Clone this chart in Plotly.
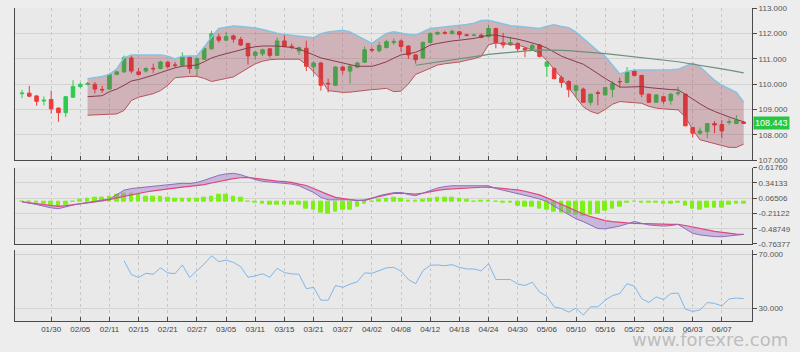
import plotly.graph_objects as go
import pandas as pd

# ---------------- data ----------------
dates = list(pd.bdate_range("2019-01-24", "2019-06-12").strftime("%m/%d"))

opens = [109.62, 109.64, 109.53, 109.33, 109.39, 109.05, 108.87, 109.48, 109.90, 109.99,
         109.99, 109.79, 109.80, 110.38, 110.48, 111.03, 110.48, 110.51, 110.62, 110.61,
         110.86, 110.75, 110.74, 111.06, 110.61, 110.98, 111.39, 111.86, 111.73, 111.90,
         111.76, 111.60, 111.13, 111.19, 111.39, 111.13, 111.70, 111.49, 111.30, 111.41,
         110.68, 110.83, 110.03, 109.95, 110.67, 110.51, 110.67, 110.86, 111.36, 111.31,
         111.44, 111.64, 111.70, 111.50, 111.15, 111.03, 111.64, 111.97, 112.03, 111.99,
         112.06, 111.94, 111.92, 111.93, 111.87, 112.19, 111.63, 111.54, 111.60, 111.41,
         111.39, 111.54, 110.70, 110.61, 110.25, 110.10, 109.74, 109.80, 109.28, 109.66,
         109.57, 109.79, 110.10, 110.06, 110.51, 110.34, 109.60, 109.28, 109.50, 109.35,
         109.62, 109.60, 108.28, 108.06, 108.12, 108.44, 108.40, 108.49, 108.44, 108.50]

highs = [109.77, 109.93, 109.56, 109.51, 109.74, 109.07, 109.52, 110.15, 110.06, 110.08,
         110.08, 109.93, 110.44, 110.52, 111.12, 111.12, 110.64, 110.67, 110.80, 110.92,
         110.92, 110.87, 111.25, 111.10, 111.05, 111.50, 112.10, 111.99, 112.06, 111.95,
         111.86, 111.63, 111.30, 111.40, 111.42, 111.83, 111.93, 111.60, 111.47, 111.71,
         110.90, 110.88, 110.21, 110.70, 110.72, 110.75, 110.88, 111.48, 111.44, 111.65,
         111.75, 111.80, 111.75, 111.53, 111.18, 111.68, 112.04, 112.08, 112.10, 112.14,
         112.10, 111.98, 111.98, 112.00, 112.34, 112.22, 112.02, 111.86, 111.65, 111.45,
         111.58, 111.58, 110.90, 110.66, 110.34, 110.15, 109.98, 109.86, 109.62, 109.74,
         109.88, 110.12, 110.25, 110.67, 110.57, 110.36, 109.62, 109.60, 109.54, 109.65,
         109.89, 109.62, 108.30, 108.28, 108.46, 108.54, 108.58, 108.64, 108.77, 108.53]

lows = [109.44, 109.48, 109.15, 109.16, 108.83, 108.51, 108.70, 109.45, 109.83, 109.95,
        109.63, 109.64, 109.78, 110.35, 110.44, 110.42, 110.34, 110.45, 110.44, 110.58,
        110.62, 110.64, 110.70, 110.42, 110.32, 110.95, 111.35, 111.63, 111.70, 111.63,
        111.50, 110.77, 110.96, 111.10, 111.03, 111.10, 111.45, 111.37, 111.15, 110.51,
        110.29, 109.74, 109.67, 109.92, 110.38, 110.02, 110.62, 110.83, 111.26, 111.25,
        111.40, 111.54, 111.28, 110.99, 110.81, 110.98, 111.60, 111.92, 111.95, 111.96,
        111.80, 111.88, 111.88, 111.80, 111.84, 111.41, 111.41, 111.50, 111.30, 111.06,
        111.33, 111.05, 110.29, 110.20, 109.86, 109.48, 109.48, 109.25, 109.16, 109.16,
        109.55, 109.48, 109.86, 110.03, 110.30, 109.48, 109.25, 109.26, 109.22, 109.18,
        109.54, 108.35, 107.89, 107.99, 107.86, 108.06, 107.86, 108.40, 108.42, 108.42]

closes = [109.64, 109.52, 109.32, 109.36, 109.02, 108.87, 109.50, 109.90, 109.99, 110.02,
          109.80, 109.77, 110.38, 110.48, 111.05, 110.51, 110.38, 110.61, 110.60, 110.87,
          110.68, 110.74, 111.09, 110.61, 111.00, 111.41, 111.99, 111.73, 111.87, 111.77,
          111.54, 111.11, 111.26, 111.35, 111.13, 111.70, 111.48, 111.47, 111.44, 110.70,
          110.83, 109.95, 110.01, 110.67, 110.54, 110.70, 110.83, 111.35, 111.34, 111.52,
          111.67, 111.68, 111.48, 111.15, 110.96, 111.64, 111.99, 112.03, 112.01, 112.08,
          111.95, 111.92, 111.93, 111.84, 112.19, 111.63, 111.54, 111.63, 111.39, 111.34,
          111.52, 111.09, 110.87, 110.21, 110.06, 109.78, 109.93, 109.28, 109.60, 109.63,
          109.86, 110.02, 110.09, 110.47, 110.34, 109.60, 109.28, 109.57, 109.32, 109.60,
          109.65, 108.35, 108.06, 108.15, 108.44, 108.38, 108.15, 108.51, 108.57, 108.443]

# Bollinger bands (from bar index 9)
bb_start = 9
bb_upper = [110.21, 110.25, 110.30, 110.38, 110.60, 111.03, 111.15, 111.15, 111.15, 111.15,
            111.15, 111.10, 110.99, 111.10, 111.10, 111.12, 111.45, 111.86, 112.19, 112.25,
            112.29, 112.27, 112.24, 112.21, 112.15, 112.06, 112.00, 111.95, 111.93, 111.90,
            111.86, 111.83, 111.99, 112.05, 112.10, 112.12, 112.05, 111.90, 111.75, 111.60,
            111.80, 112.00, 112.06, 112.00, 111.95, 111.93, 112.05, 112.19, 112.22, 112.25,
            112.28, 112.31, 112.35, 112.40, 112.51, 112.52, 112.45, 112.35, 112.30, 112.28,
            112.25, 112.22, 112.19, 112.28, 112.34, 112.27, 112.22, 112.05, 111.80, 111.55,
            111.30, 111.09, 110.75, 110.40, 110.50, 110.55, 110.55, 110.55, 110.55, 110.55,
            110.56, 110.58, 110.72, 110.83, 110.68, 110.40, 110.15, 109.95, 109.80, 109.67, 109.28]
bb_mid = [109.50, 109.52, 109.54, 109.70, 109.80, 109.95, 110.12, 110.18, 110.25, 110.35,
          110.45, 110.55, 110.64, 110.70, 110.72, 110.75, 110.88, 111.03, 111.12, 111.20,
          111.28, 111.36, 111.42, 111.47, 111.50, 111.50, 111.50, 111.47, 111.44, 111.38,
          111.28, 111.15, 111.03, 110.97, 110.90, 110.83, 110.76, 110.70, 110.70, 110.70,
          110.78, 110.88, 111.02, 111.15, 111.20, 111.25, 111.38, 111.54, 111.60, 111.66,
          111.70, 111.73, 111.76, 111.80, 111.86, 111.93, 111.93, 111.88, 111.83, 111.77,
          111.70, 111.62, 111.54, 111.42, 111.25, 111.10, 110.99, 110.88, 110.78, 110.60,
          110.40, 110.22, 110.05, 109.88, 109.88, 109.90, 109.90, 109.86, 109.83, 109.80,
          109.78, 109.77, 109.60, 109.41, 109.22, 109.05, 108.92, 108.80, 108.70, 108.60, 108.51]
bb_lower = [108.77, 108.78, 108.79, 108.80, 108.82, 108.96, 109.35, 109.48, 109.55, 109.62,
            109.74, 109.95, 110.25, 110.28, 110.30, 110.30, 110.22, 110.10, 110.15, 110.22,
            110.28, 110.45, 110.64, 110.80, 110.90, 110.96, 110.98, 110.99, 110.98, 110.98,
            110.77, 110.50, 110.19, 109.74, 109.70, 109.67, 109.68, 109.72, 109.76, 109.78,
            109.80, 109.83, 109.70, 109.72, 110.00, 110.38, 110.50, 110.61, 110.75, 110.80,
            110.83, 110.87, 110.94, 111.00, 111.09, 111.55, 111.62, 111.60, 111.57, 111.54,
            111.45, 111.35, 111.22, 110.92, 110.57, 110.25, 109.85, 109.45, 109.10, 108.92,
            108.83, 109.00, 109.20, 109.31, 109.28, 109.25, 109.24, 109.12, 109.05, 109.02,
            109.00, 108.98, 108.70, 108.20, 107.80, 107.72, 107.63, 107.55, 107.50, 107.50, 107.63]

# long moving average (from bar index 54)
ma_start = 54
ma_long = [110.74, 110.78, 110.82, 110.86, 110.90, 110.95, 111.00, 111.03, 111.08, 111.12,
           111.17, 111.20, 111.23, 111.26, 111.29, 111.31, 111.33, 111.35, 111.35, 111.34,
           111.33, 111.32, 111.30, 111.28, 111.26, 111.24, 111.20, 111.17, 111.14, 111.11,
           111.08, 111.05, 111.02, 110.99, 110.96, 110.92, 110.88, 110.83, 110.79, 110.75,
           110.70, 110.65, 110.60, 110.55, 110.50, 110.44]

macd = [0.00, -0.02, -0.05, -0.08, -0.11, -0.125, -0.09, -0.06, -0.035, -0.01,
        0.01, 0.03, 0.05, 0.13, 0.21, 0.24, 0.255, 0.265, 0.28, 0.295,
        0.305, 0.32, 0.335, 0.33, 0.35, 0.39, 0.44, 0.48, 0.505, 0.515,
        0.49, 0.44, 0.40, 0.37, 0.355, 0.345, 0.335, 0.32, 0.29, 0.23,
        0.17, 0.08, 0.035, 0.035, 0.04, 0.035, 0.025, 0.02, 0.06, 0.11,
        0.14, 0.165, 0.17, 0.13, 0.11, 0.16, 0.21, 0.25, 0.275, 0.29,
        0.29, 0.29, 0.29, 0.29, 0.29, 0.24, 0.21, 0.18, 0.155, 0.12,
        0.085, 0.05, 0.005, -0.08, -0.16, -0.24, -0.31, -0.36, -0.43, -0.485,
        -0.49, -0.47, -0.44, -0.40, -0.355, -0.39, -0.42, -0.43, -0.44, -0.43,
        -0.41, -0.49, -0.57, -0.60, -0.62, -0.63, -0.633, -0.62, -0.60, -0.59]

signal = [0.00, -0.015, -0.03, -0.05, -0.07, -0.082, -0.07, -0.055, -0.04, -0.02,
          0.00, 0.02, 0.038, 0.07, 0.10, 0.13, 0.157, 0.177, 0.197, 0.217,
          0.235, 0.25, 0.265, 0.28, 0.29, 0.31, 0.34, 0.37, 0.397, 0.42,
          0.435, 0.44, 0.425, 0.405, 0.39, 0.375, 0.365, 0.35, 0.32, 0.295,
          0.24, 0.18, 0.13, 0.08, 0.055, 0.04, 0.027, 0.035, 0.067, 0.10,
          0.125, 0.15, 0.157, 0.15, 0.14, 0.155, 0.185, 0.205, 0.225, 0.235,
          0.245, 0.253, 0.26, 0.263, 0.264, 0.255, 0.24, 0.228, 0.215, 0.19,
          0.16, 0.125, 0.07, 0.01, -0.05, -0.11, -0.17, -0.22, -0.27, -0.31,
          -0.34, -0.36, -0.375, -0.383, -0.39, -0.397, -0.40, -0.403, -0.406, -0.408,
          -0.41, -0.43, -0.46, -0.485, -0.51, -0.535, -0.555, -0.57, -0.585, -0.59]

hist = [0.006, 0.006, -0.01, -0.035, -0.06, -0.08, -0.05, 0.01, 0.04, 0.06,
        0.07, 0.07, 0.09, 0.12, 0.15, 0.14, 0.12, 0.10, 0.09, 0.09,
        0.07, 0.06, 0.06, 0.055, 0.055, 0.07, 0.10, 0.12, 0.12, 0.10,
        0.07, 0.01, -0.01, -0.03, -0.05, -0.05, -0.05, -0.05, -0.05, -0.12,
        -0.14, -0.20, -0.21, -0.18, -0.15, -0.14, -0.09, -0.035, 0.01, 0.04,
        0.06, 0.08, 0.05, 0.02, 0.02, 0.04, 0.05, 0.07, 0.07, 0.07,
        0.06, 0.04, 0.01, 0.02, 0.02, 0.006, -0.01, -0.02, -0.07, -0.09,
        -0.08, -0.12, -0.14, -0.17, -0.20, -0.22, -0.23, -0.26, -0.23, -0.22,
        -0.16, -0.12, -0.08, -0.01, 0.01, -0.01, -0.015, -0.02, -0.03, -0.03,
        -0.01, -0.07, -0.12, -0.14, -0.11, -0.10, -0.10, -0.06, -0.04, -0.03]

# RSI (from bar index 14)
rsi_start = 14
rsi = [65.1, 54.9, 52.7, 55.8, 55.1, 59.8, 56.1, 55.6, 62.0, 52.7,
       57.8, 62.7, 68.8, 64.4, 65.6, 63.9, 60.7, 52.9, 53.9, 55.4,
       52.9, 59.5, 56.3, 55.4, 55.1, 44.4, 45.4, 35.9, 35.9, 46.8,
       45.4, 47.8, 49.5, 56.1, 55.8, 58.0, 59.8, 60.2, 57.3, 51.2,
       48.1, 57.8, 61.7, 62.0, 61.4, 62.2, 60.2, 59.0, 59.0, 57.6,
       62.9, 51.2, 51.0, 51.2, 47.8, 46.8, 49.2, 41.9, 38.8, 31.0,
       29.8, 27.1, 30.0, 24.9, 31.0, 31.0, 35.9, 39.3, 40.8, 48.1,
       46.3, 37.1, 34.2, 38.3, 36.4, 40.8, 41.2, 29.3, 27.6, 28.6,
       34.2, 33.5, 31.7, 36.8, 37.5, 37.1]

price_ticks = [107, 108, 109, 110, 111, 112, 113]
macd_ticks = [0.61760, 0.34133, 0.06506, -0.21122, -0.48749, -0.76377]
rsi_ticks = [30, 70]
last_price = "108.443"

# ---------------- figure ----------------
GREEN = "#2fcb50"
RED = "#ef3a3a"
FONT = "Liberation Sans Narrow, Liberation Sans, Arial, sans-serif"

idx = list(range(len(dates)))          # bar positions on the category scale
tick_idx = idx[4::4]
tick_txt = [dates[i] for i in tick_idx]

fig = go.Figure()

# price panel
fig.add_trace(go.Scatter(x=idx[bb_start:], y=bb_upper, mode="lines",
                         line=dict(color="#86c3e0", width=1.5),
                         xaxis="x", yaxis="y", hoverinfo="skip"))
fig.add_trace(go.Scatter(x=idx[bb_start:], y=bb_lower, mode="lines",
                         line=dict(color="#b9545b", width=1),
                         fill="tonexty", fillcolor="rgba(150,55,72,0.30)",
                         xaxis="x", yaxis="y", hoverinfo="skip"))
fig.add_trace(go.Scatter(x=idx[bb_start:], y=bb_mid, mode="lines",
                         line=dict(color="#8a3a4c", width=1),
                         xaxis="x", yaxis="y", hoverinfo="skip"))
fig.add_trace(go.Scatter(x=idx[ma_start:], y=ma_long, mode="lines",
                         line=dict(color="#6e907a", width=1.2),
                         xaxis="x", yaxis="y", hoverinfo="skip"))
fig.add_trace(go.Candlestick(x=idx, open=opens, high=highs, low=lows, close=closes,
                             increasing=dict(line=dict(color=GREEN, width=1), fillcolor=GREEN),
                             decreasing=dict(line=dict(color=RED, width=1), fillcolor=RED),
                             whiskerwidth=0, xaxis="x", yaxis="y"))

# MACD panel
fig.add_trace(go.Bar(x=idx, y=hist, width=0.5,
                     marker=dict(color="#7ef018", line=dict(color="#7ef018", width=1)),
                     xaxis="x2", yaxis="y2", hoverinfo="skip"))
fig.add_trace(go.Scatter(x=idx, y=signal, mode="lines",
                         line=dict(color="#e0487a", width=1.2),
                         xaxis="x2", yaxis="y2", hoverinfo="skip"))
fig.add_trace(go.Scatter(x=idx, y=macd, mode="lines",
                         line=dict(color="#8f6cbb", width=1),
                         fill="tonexty", fillcolor="rgba(160,120,205,0.45)",
                         xaxis="x2", yaxis="y2", hoverinfo="skip"))

# RSI panel
fig.add_trace(go.Scatter(x=idx[rsi_start:], y=rsi, mode="lines",
                         line=dict(color="#80b6ea", width=1),
                         xaxis="x3", yaxis="y3", hoverinfo="skip"))

xcommon = dict(type="linear", range=[-0.96, 100.14], tickmode="array",
               tickvals=tick_idx, ticktext=tick_txt,
               showgrid=True, gridcolor="#c8c8c8", griddash="dot", gridwidth=1,
               showline=True, linecolor="#4a4a4a", linewidth=1,
               ticks="inside", ticklen=4, tickcolor="#4a4a4a", zeroline=False,
               tickfont=dict(family=FONT, size=8, color="#444"))
ycommon = dict(side="right", showline=True, linecolor="#4a4a4a", linewidth=1, mirror=True,
               ticks="outside", ticklen=4, tickcolor="#4a4a4a",
               showgrid=True, gridcolor="#d3d3d3", gridwidth=1, zeroline=False,
               tickfont=dict(family=FONT, size=8, color="#555"))

fig.update_layout(
    width=800, height=352,
    margin=dict(l=15, r=48, t=4, b=31),
    paper_bgcolor="#ededed", plot_bgcolor="#e9e9e9",
    showlegend=False, bargap=0, hovermode=False,
    xaxis=dict(xcommon, domain=[0, 1], anchor="y", showticklabels=False,
               rangeslider=dict(visible=False)),
    xaxis2=dict(xcommon, domain=[0, 1], anchor="y2", matches="x", showticklabels=False),
    xaxis3=dict(xcommon, domain=[0, 1], anchor="y3", matches="x", showticklabels=True),
    yaxis=dict(ycommon, domain=[0.5142, 1.0], range=[107, 113], tickvals=price_ticks,
               ticktext=["%.3f" % v for v in price_ticks]),
    yaxis2=dict(ycommon, domain=[0.2461, 0.4899], range=[macd_ticks[-1], macd_ticks[0]],
                tickvals=macd_ticks, ticktext=["%.5f" % v for v in macd_ticks]),
    yaxis3=dict(ycommon, domain=[0.0, 0.2262], range=[20.5, 72.9], tickvals=rsi_ticks,
                ticktext=["%.3f" % v for v in rsi_ticks]),
)

fig.add_annotation(x=1, xref="paper", y=float(last_price), yref="y", xanchor="left",
                   yanchor="middle", xshift=1, text=last_price, showarrow=False,
                   bgcolor="#25c840", borderpad=1,
                   font=dict(family=FONT, size=9, color="white"))
fig.add_annotation(x=1.0516, y=-0.0975, xref="paper", yref="paper", xanchor="right",
                   yanchor="bottom", text="www.forexre.com", showarrow=False,
                   font=dict(family="DejaVu Sans, Liberation Sans", size=18, color="#bdbdbd"))

fig.write_html("out.html")
